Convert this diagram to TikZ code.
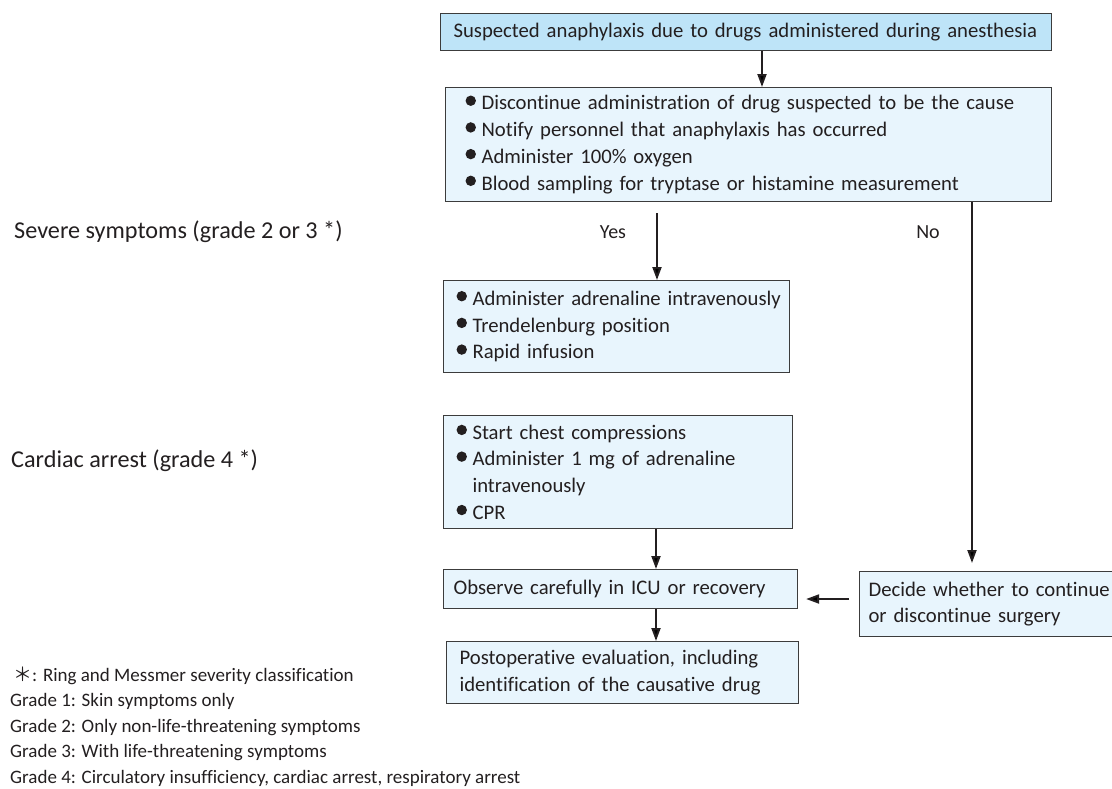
\documentclass[tikz,border=0pt]{standalone}
\usepackage{fontspec}
\setmainfont{Carlito}[Ligatures=NoCommon]
\newfontfamily\cjkfont{Noto Sans CJK JP}
\usetikzlibrary{arrows.meta}
\definecolor{ink}{HTML}{231F20}
\definecolor{headfill}{HTML}{BEE4F8}
\definecolor{boxfill}{HTML}{E8F5FD}
\definecolor{edge}{HTML}{3C3C3C}
% round bullet sitting a little above the baseline
\newcommand\bul{\makebox[16pt][l]{\raisebox{4pt}{\tikz\fill[ink] (0,0) circle (5.2pt);}}}
\newcommand\ind{\hspace*{16pt}}

\begin{document}
\begin{tikzpicture}[x=1pt,y=-1pt,
  every node/.style={text=ink},
  flow/.style={draw=edge, line width=1.1pt, fill=boxfill, anchor=north west,
    inner ysep=0pt, align=left, font=\fontsize{20.7}{26.7}\selectfont},
  head/.style={flow, fill=headfill},
  arr/.style={draw=ink, line width=2pt, -{Triangle[length=13pt,width=9pt]}},
  side/.style={anchor=base west, inner sep=0pt, font=\fontsize{24.2}{29}\selectfont},
  note/.style={anchor=base west, inner sep=0pt, font=\fontsize{19}{24}\selectfont},
  branch/.style={anchor=base, inner sep=0pt, font=\fontsize{20}{24}\selectfont}]
\useasboundingbox (0,0) rectangle (1112,788);
\clip (0,0) rectangle (1112,788);

% flow boxes
\node[head, inner xsep=13pt, text width=585pt, minimum height=37pt] (start) at (440,13)
  {Suspected anaphylaxis due to drugs administered during anesthesia};
\node[flow, inner xsep=20pt, text width=566pt, minimum height=114pt] (first) at (445,87)
  {\bul Discontinue administration of drug suspected to be the cause\\
   \bul Notify personnel that anaphylaxis has occurred\\
   \bul Administer 100\% oxygen\\
   \bul Blood sampling for tryptase or histamine measurement};
\node[flow, inner xsep=13pt, text width=320pt, minimum height=92pt] (severe) at (443,280)
  {\mbox{\bul Administer adrenaline intravenously}\\
   \bul Trendelenburg position\\
   \bul Rapid infusion};
\node[flow, inner xsep=13pt, text width=323pt, minimum height=113pt] (arrest) at (443,415)
  {\bul Start chest compressions\\
   \bul Administer 1 mg of adrenaline\\
   \ind intravenously\\
   \bul CPR};
\node[flow, inner xsep=10pt, text width=334pt, minimum height=39pt] (observe) at (443,569)
  {Observe carefully in ICU or recovery};
\node[flow, inner xsep=13pt, text width=326pt, minimum height=62pt] (post) at (446,641)
  {Postoperative evaluation, including\\identification of the causative drug};
\node[flow, inner xsep=9pt, text width=262pt, minimum height=65pt,
  font=\fontsize{20.7}{26}\selectfont] (decide) at (859,571)
  {Decide whether to continue\\or discontinue surgery};

% branch labels
\node[branch] (yes) at (613,238) {Yes};
\node[branch] (no) at (928,238) {No};

% severity labels on the left
\node[side] (sevlabel) at (14,238) {Severe symptoms (grade 2 or 3 *)};
\node[side] (arrlabel) at (11,467) {Cardiac arrest (grade 4 *)};

% footnote
\node[note] (n0) at (13,681) {{\cjkfont ＊}: Ring and Messmer severity classification};
\node[note] (n1) at (10,706) {Grade 1: Skin symptoms only};
\node[note] (n2) at (10,732) {Grade 2: Only non-life-threatening symptoms};
\node[note] (n3) at (10,757) {Grade 3: With life-threatening symptoms};
\node[note] (n4) at (10,783) {Grade 4: Circulatory insufficiency, cardiac arrest, respiratory arrest};

% connector columns and rows
\coordinate (cTop) at (762,0);
\coordinate (cYes) at (657,0);
\coordinate (cNo) at (972,0);
\coordinate (cMid) at (656,0);
\coordinate (rSide) at (0,599);

\draw[arr] (start.south -| cTop) -- (first.north -| cTop);
\draw[arr] ([yshift=-11pt]first.south -| cYes) -- (severe.north -| cYes);
\draw[arr, shorten >=8pt] (first.south -| cNo) -- (decide.north -| cNo);
\draw[arr] (arrest.south -| cMid) -- (observe.north -| cMid);
\draw[arr] (observe.south -| cMid) -- (post.north -| cMid);
\draw[arr, shorten <=10pt, shorten >=8pt] (decide.west |- rSide) -- (observe.east |- rSide);
\end{tikzpicture}
\end{document}
